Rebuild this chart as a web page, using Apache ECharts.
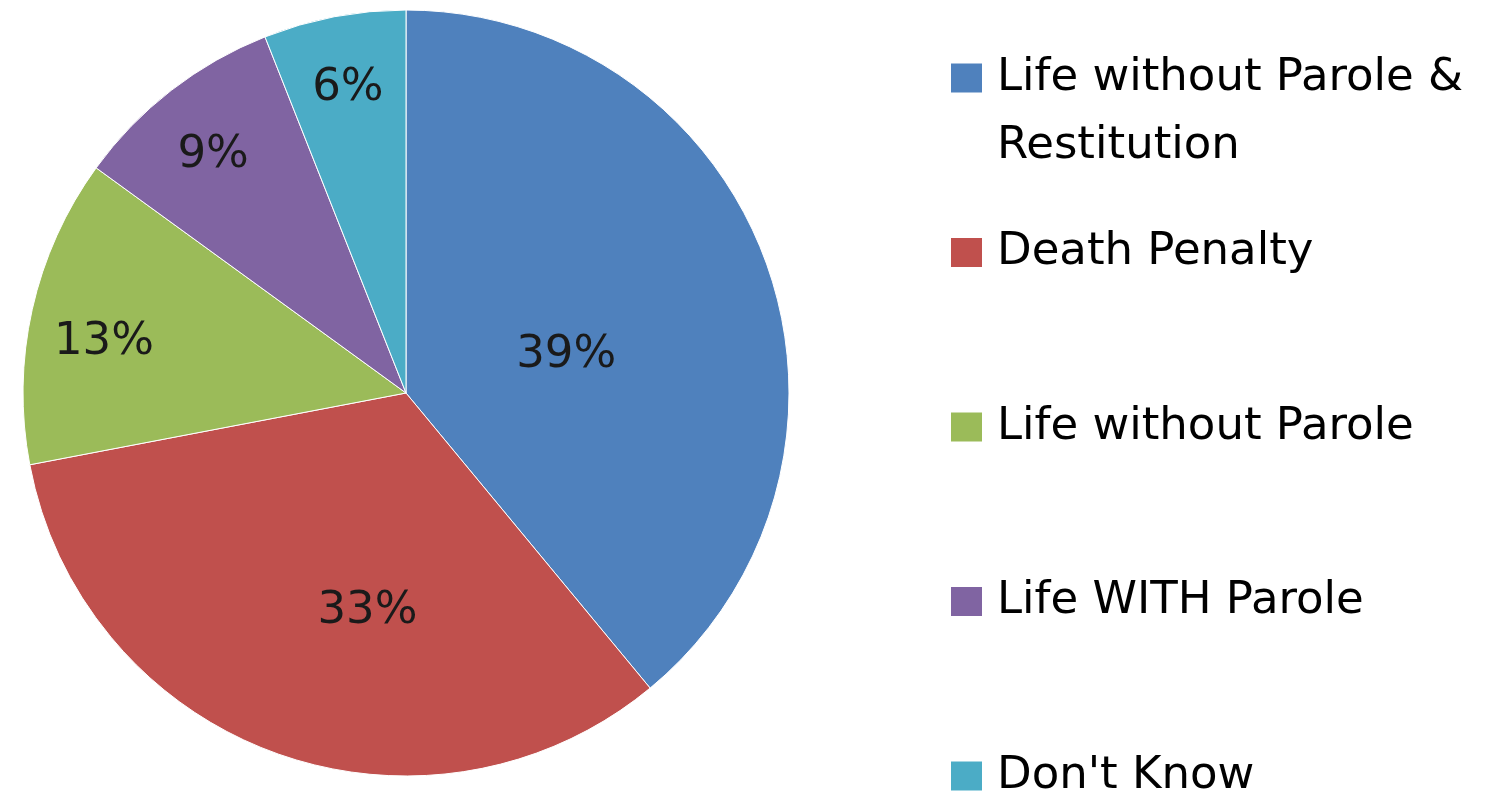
<!DOCTYPE html>
<html>
<head>
<meta charset="utf-8">
<title>Sentencing preference</title>
<script src="https://cdn.jsdelivr.net/npm/echarts@6/dist/echarts.min.js"></script>
<style>
  html, body { margin: 0; padding: 0; background: #fff; }
  #chart { width: 1499px; height: 800px; }
</style>
</head>
<body>
<div id="chart"></div>
<script>
const categories = ['Life without Parole & Restitution', 'Death Penalty', 'Life without Parole', 'Life WITH Parole', "Don't Know"]
const legendLines = [['Life without Parole &', 'Restitution'], ['Death Penalty'], ['Life without Parole'], ['Life WITH Parole'], ["Don't Know"]]
const values = [39, 33, 13, 9, 6]

const colors = ['#4F81BD', '#C0504D', '#9BBB59', '#8064A2', '#4BACC6']
// Excel "best fit" label spots: share of radius, and turn (deg) off the slice middle
const labelDist = [0.43, 0.58, 0.8, 0.8, 0.81]
const labelTurn = [6.4, -9.8, -3, -1.2, 0]

const font = '"DejaVu Sans", sans-serif'
const cx = 406
const cy = 393
const radius = 383
const fontSize = 45
const lineH = 68
const legendTop = 78
const legendStep = 174.5

const chart = echarts.init(document.getElementById('chart'), null, { renderer: 'canvas' })

const legends = categories.map((name, i) => {
  const lines = legendLines[i].map(l => '\u2009' + l)
  // a blank line above keeps the icon level with the first text line
  const textLines = lines.length > 1 ? ['\u00a0'].concat(lines) : lines
  const boxH = textLines.length * lineH
  return {
    data: [name],
    orient: 'vertical',
    left: 949,
    top: legendTop + i * legendStep - boxH / 2,
    icon: 'rect',
    itemWidth: 33,
    itemHeight: 31,
    itemGap: 0,
    padding: 0,
    selectedMode: false,
    formatter: () => textLines.join('\n'),
    textStyle: {
      fontFamily: font,
      fontSize: fontSize,
      color: '#000',
      lineHeight: lineH
    }
  }
})

const option = {
  animation: false,
  color: colors,
  legend: legends,
  series: [
    {
      type: 'pie',
      center: [cx, cy],
      radius: radius,
      startAngle: 90,
      clockwise: true,
      silent: true,
      itemStyle: {
        borderColor: '#fff',
        borderWidth: 1
      },
      label: {
        position: 'inside',
        formatter: '{c}%',
        fontFamily: font,
        fontSize: fontSize,
        color: '#1a1a1a'
      },
      labelLine: { show: false },
      labelLayout: params => {
        const r = params.labelRect
        const lx = r.x + r.width / 2
        const ly = r.y + r.height / 2
        const ang = Math.atan2(ly - cy, lx - cx) + labelTurn[params.dataIndex] * Math.PI / 180
        const dist = labelDist[params.dataIndex] * radius
        return {
          x: cx + Math.cos(ang) * dist,
          y: cy + Math.sin(ang) * dist
        }
      },
      data: categories.map((name, i) => ({ name, value: values[i] }))
    }
  ]
}

chart.setOption(option)
</script>
</body>
</html>
